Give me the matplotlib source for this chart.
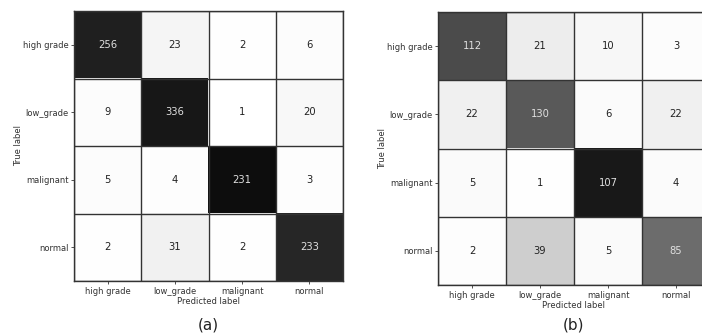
import numpy as np
import matplotlib
matplotlib.use("Agg")
import matplotlib.pyplot as plt

classes = ["high grade", "low_grade", "malignant", "normal"]

# confusion counts, rows = true label, cols = predicted label
cm_a = np.array([[256, 23, 2, 6],
                 [9, 336, 1, 20],
                 [5, 4, 231, 3],
                 [2, 31, 2, 233]])

cm_b = np.array([[112, 21, 10, 3],
                 [22, 130, 6, 22],
                 [5, 1, 107, 4],
                 [2, 39, 5, 85]])

panel_tags = ["(a)", "(b)"]

plt.rcParams['font.family'] = 'DejaVu Sans'

fig = plt.figure(figsize=(7.02, 3.33), dpi=100)
W, H = 702.0, 333.0

# axes boxes in pixels: left, top, width, height
boxes = [(74, 11, 269, 270), (438, 12, 272, 273)]


def draw_cm(ax, cm):
    # shade by row-normalised rate, print the raw counts
    rates = cm / cm.sum(axis=1, keepdims=True)
    ax.imshow(rates, cmap="Greys", vmin=0, vmax=1, aspect="auto",
              interpolation="nearest")
    n = cm.shape[0]
    for i in range(n):
        for j in range(n):
            col = "#e0e0e0" if rates[i, j] > 0.5 else "#222222"
            ax.text(j, i, str(cm[i, j]), ha="center", va="center",
                    fontsize=7.2, color=col)
    ax.set_xticks(range(n))
    ax.set_yticks(range(n))
    ax.set_xticklabels(classes, fontsize=6, color="#333333")
    ax.set_yticklabels(classes, fontsize=6, color="#333333")
    ax.set_xticks(np.arange(-0.5, n, 1), minor=True)
    ax.set_yticks(np.arange(-0.5, n, 1), minor=True)
    ax.grid(which="minor", color="#333333", linewidth=1.0)
    ax.tick_params(which="minor", length=0)
    ax.tick_params(which="major", length=2.5, width=0.6, pad=1.5,
                   color="#333333")
    for s in ax.spines.values():
        s.set_color("#333333")
        s.set_linewidth(1.0)
    ax.set_xlabel("Predicted label", fontsize=6, color="#333333", labelpad=1)
    ax.set_ylabel("True label", fontsize=6, color="#333333", labelpad=0)


for (l, t, w, h), cm, tag in zip(boxes, [cm_a, cm_b], panel_tags):
    ax = fig.add_axes([l / W, 1 - (t + h) / H, w / W, h / H])
    draw_cm(ax, cm)
    fig.text((l + w / 2) / W, 1 - 325 / H, tag, ha="center", va="center",
             fontsize=11, color="#222222")

fig.savefig("out.png", dpi=100)
